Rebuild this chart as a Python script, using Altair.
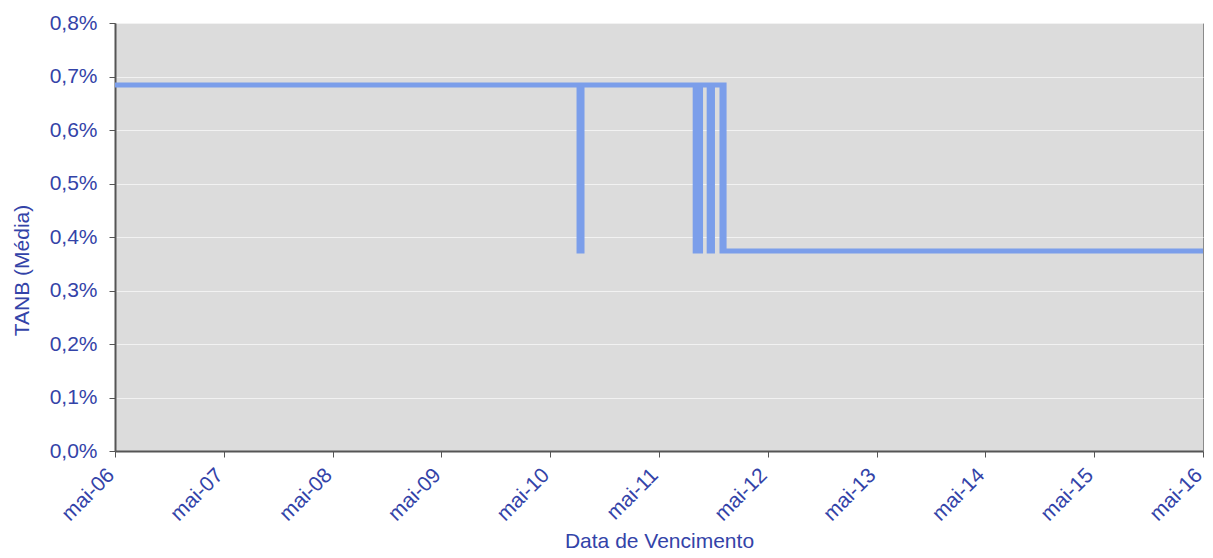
import altair as alt
import pandas as pd

# Data (TANB in %)
dates = ["2006-05-01", "2010-08-06", "2010-08-16", "2011-08-31", "2011-09-07",
         "2011-09-13", "2011-09-18", "2011-10-17", "2011-10-28", "2011-11-29",
         "2011-12-03", "2011-12-06", "2016-05-01"]
tanb = [0.684, 0.374, 0.684, 0.374, 0.684,
        0.374, 0.684, 0.374, 0.684, 0.374,
        0.684, 0.374, 0.374]
tick_years = [2006, 2007, 2008, 2009, 2010, 2011, 2012, 2013, 2014, 2015, 2016]
y_ticks = [0.0, 0.1, 0.2, 0.3, 0.4, 0.5, 0.6, 0.7, 0.8]

df = pd.DataFrame({"date": dates, "tanb": tanb})

TXT = "#3343A8"
FONT = "Liberation Sans"

x = alt.X(
    "date:T",
    scale=alt.Scale(
        type="utc",
        nice=False,
        domain=[alt.DateTime(year=2006, month=5, date=1, utc=True),
                alt.DateTime(year=2016, month=5, date=1, utc=True)],
    ),
    axis=alt.Axis(
        values=[alt.DateTime(year=yy, month=5, date=1, utc=True) for yy in tick_years],
        labelExpr="'mai-' + utcFormat(datum.value, '%y')",
        labelAngle=-45,
        labelAlign="right",
        labelBaseline="alphabetic",
        labelPadding=19,
        labelFontSize=21,
        labelColor=TXT,
        labelFont=FONT,
        tickSize=6,
        tickColor="#555555",
        domainColor="#555555",
        domainWidth=2,
        grid=False,
        title="Data de Vencimento",
        titleFontSize=21,
        titleFontWeight="normal",
        titleColor=TXT,
        titleFont=FONT,
        titleY=96,
        titleBaseline="alphabetic",
    ),
)

y = alt.Y(
    "tanb:Q",
    scale=alt.Scale(domain=[0, 0.8], nice=False),
    axis=alt.Axis(
        values=y_ticks,
        labelExpr="replace(format(datum.value, '.1f'), '.', ',') + '%'",
        labelFontSize=21,
        labelColor=TXT,
        labelFont=FONT,
        labelPadding=12,
        tickSize=6,
        tickColor="#555555",
        domainColor="#555555",
        domainWidth=2,
        grid=True,
        gridColor="#F2F2F2",
        gridWidth=1.2,
        title="TANB (Média)",
        titleFontSize=21,
        titleFontWeight="normal",
        titleColor=TXT,
        titleFont=FONT,
        titleX=-93,
        titleY=247,
        titleAlign="center",
        titleBaseline="middle",
        titleAngle=-90,
    ),
)

chart = (
    alt.Chart(df)
    .mark_line(interpolate="step-after", color="#7B9EEA", strokeWidth=5)
    .encode(x=x, y=y)
    .properties(
        width=1088,
        height=428,
        autosize=alt.AutoSizeParams(type="none"),
        padding={"left": 107, "top": 15, "right": 2, "bottom": 99},
        background="white",
    )
    .configure_view(fill="#DCDCDC", stroke="#8A8A8A", strokeWidth=1)
)

chart.save("out.html", embed_options={"renderer": "svg", "actions": False})
